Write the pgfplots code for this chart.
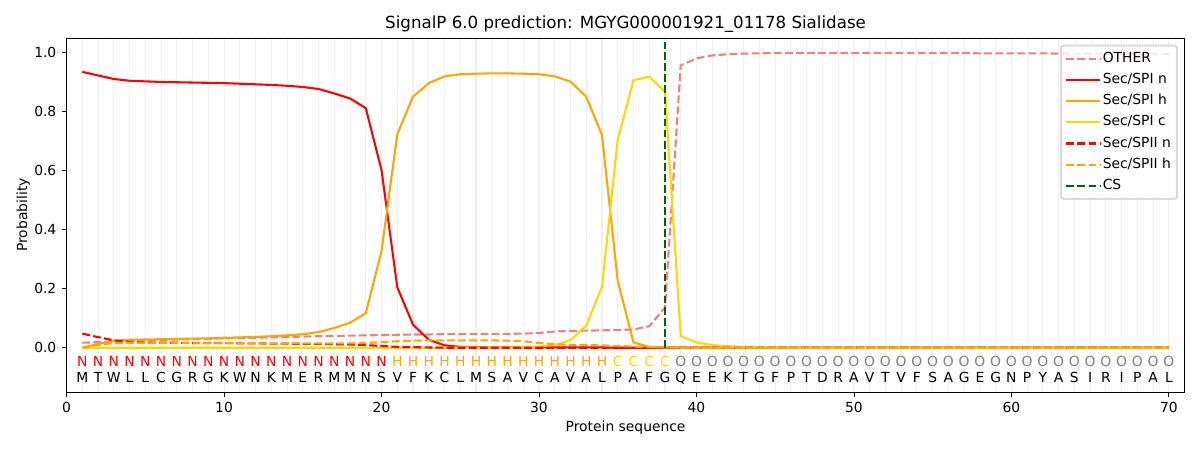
\documentclass[border=0pt]{standalone}
\usepackage{fontspec}
\setmainfont{DejaVu Sans}
\usepackage{pgfplots}
\pgfplotsset{compat=1.18}
\usepackage{pgfplotstable}
\definecolor{lcoral}{HTML}{F08080}
\definecolor{orng}{HTML}{FFA500}
\definecolor{gld}{HTML}{FFD700}
\definecolor{dgreen}{HTML}{006400}
\newcommand{\fs}{\fontsize{10.4}{12.5}\selectfont}
\pgfplotstableread{
x other spin spih spic spiin spiih
1 0.017 0.935 0.000 0.000 0.048 0.000
2 0.019 0.923 0.013 0.000 0.036 0.010
3 0.021 0.911 0.024 0.000 0.025 0.016
4 0.023 0.905 0.027 0.000 0.020 0.017
5 0.025 0.903 0.028 0.000 0.018 0.017
6 0.026 0.901 0.029 0.000 0.017 0.017
7 0.028 0.900 0.030 0.000 0.017 0.017
8 0.029 0.899 0.031 0.000 0.016 0.016
9 0.030 0.898 0.032 0.000 0.016 0.016
10 0.032 0.897 0.034 0.000 0.016 0.016
11 0.033 0.895 0.035 0.000 0.015 0.016
12 0.034 0.893 0.037 0.000 0.015 0.015
13 0.035 0.891 0.039 0.000 0.014 0.015
14 0.036 0.888 0.042 0.000 0.014 0.015
15 0.038 0.884 0.046 0.000 0.013 0.015
16 0.039 0.877 0.053 0.000 0.013 0.015
17 0.040 0.862 0.067 0.000 0.012 0.015
18 0.041 0.845 0.085 0.000 0.011 0.015
19 0.042 0.812 0.117 0.000 0.009 0.016
20 0.043 0.602 0.328 0.000 0.006 0.019
21 0.044 0.205 0.724 0.000 0.003 0.022
22 0.045 0.078 0.851 0.000 0.002 0.024
23 0.045 0.027 0.897 0.000 0.001 0.025
24 0.046 0.008 0.920 0.000 0.000 0.025
25 0.046 0.003 0.927 0.001 0.000 0.025
26 0.046 0.002 0.929 0.001 0.000 0.025
27 0.047 0.001 0.930 0.001 0.000 0.025
28 0.047 0.001 0.930 0.001 0.000 0.024
29 0.048 0.001 0.929 0.002 0.000 0.022
30 0.050 0.001 0.927 0.004 0.000 0.016
31 0.055 0.001 0.920 0.009 0.000 0.012
32 0.057 0.001 0.902 0.026 0.000 0.010
33 0.058 0.001 0.851 0.075 0.000 0.009
34 0.059 0.001 0.721 0.207 0.000 0.008
35 0.060 0.000 0.227 0.705 0.000 0.006
36 0.062 0.000 0.018 0.907 0.000 0.004
37 0.073 0.000 0.003 0.919 0.000 0.002
38 0.136 0.000 0.001 0.868 0.000 0.001
39 0.957 0.000 0.000 0.040 0.000 0.000
40 0.981 0.000 0.000 0.018 0.000 0.000
41 0.991 0.000 0.000 0.009 0.000 0.000
42 0.995 0.000 0.000 0.005 0.000 0.000
43 0.997 0.000 0.000 0.003 0.000 0.000
44 0.998 0.000 0.000 0.002 0.000 0.000
45 0.999 0.000 0.000 0.001 0.000 0.000
46 0.999 0.000 0.000 0.000 0.000 0.000
47 0.999 0.000 0.000 0.000 0.000 0.000
48 0.999 0.000 0.000 0.000 0.000 0.000
49 0.999 0.000 0.000 0.000 0.000 0.000
50 0.999 0.000 0.000 0.000 0.000 0.000
51 0.999 0.000 0.000 0.000 0.000 0.000
52 0.999 0.000 0.000 0.000 0.000 0.000
53 0.999 0.000 0.000 0.000 0.000 0.000
54 0.999 0.000 0.000 0.000 0.000 0.000
55 0.999 0.000 0.000 0.000 0.000 0.000
56 0.999 0.000 0.000 0.000 0.000 0.000
57 0.999 0.000 0.000 0.000 0.000 0.000
58 0.998 0.000 0.000 0.000 0.000 0.000
59 0.998 0.000 0.000 0.000 0.000 0.000
60 0.998 0.000 0.000 0.000 0.000 0.000
61 0.998 0.000 0.000 0.000 0.000 0.000
62 0.998 0.000 0.000 0.000 0.000 0.000
63 0.997 0.000 0.000 0.000 0.000 0.000
64 0.997 0.000 0.000 0.000 0.000 0.000
65 0.997 0.000 0.000 0.000 0.000 0.000
66 0.997 0.000 0.000 0.000 0.000 0.000
67 0.996 0.000 0.000 0.000 0.000 0.000
68 0.996 0.000 0.000 0.000 0.000 0.000
69 0.996 0.000 0.000 0.000 0.000 0.000
70 0.996 0.000 0.000 0.000 0.000 0.000
}\probs
\begin{document}
\begin{tikzpicture}
\begin{axis}[
  scale only axis, width=838.5pt, height=265.5pt,
  xmin=0, xmax=71, ymin=-0.15, ymax=1.05,
  xtick={0,10,...,70}, ytick={0,0.2,0.4,0.6,0.8,1.0},
  minor xtick={0,1,...,71}, xminorgrids,
  minor grid style={gray!12, line width=0.8pt},
  minor tick length=0pt, major tick length=3.6pt,
  tick align=outside, tick pos=left,
  axis line style={line width=0.6pt},
  major tick style={line width=0.6pt, black},
  /pgf/number format/assume math mode=true,
  ticklabel style={font=\fs},
  yticklabel style={/pgf/number format/.cd, fixed, fixed zerofill, precision=1},
  title={SignalP 6.0 prediction: MGYG000001921\_01178 Sialidase},
  title style={font=\fontsize{12.5}{14}\selectfont, at={(axis description cs:0.5,1.0275)}, anchor=base, inner sep=0pt, yshift=-6pt},
  xlabel={Protein sequence},
  xlabel style={font=\fs, at={(axis description cs:0.5,-0.1122)}, anchor=base, inner sep=0pt},
  ylabel={Probability},
  ylabel style={font=\fs, at={(axis description cs:-0.0354,0.5)}, anchor=base, inner sep=0pt},
  legend cell align=left,
  legend image code/.code={\draw[#1] (0pt,0pt) -- (21.5pt,0pt); \path (0pt,0pt) -- (25pt,0pt);},
  legend style={at={(axis description cs:0.9943,0.9812)}, anchor=north east,
    draw=gray!30, rounded corners=2pt, fill=white, fill opacity=0.8, text opacity=1,
    font=\fs, inner xsep=3.2pt, inner ysep=3pt, row sep=2.4pt,
    nodes={inner sep=1.5pt, text height=8pt, text depth=2.5pt}},
  line width=1.56pt,
]
\addplot[lcoral, dash pattern=on 5.8pt off 2.5pt] table[x=x, y=other] {\probs};
\addlegendentry{OTHER}
\addplot[red] table[x=x, y=spin] {\probs};
\addlegendentry{Sec/SPI n}
\addplot[orng] table[x=x, y=spih] {\probs};
\addlegendentry{Sec/SPI h}
\addplot[gld] table[x=x, y=spic] {\probs};
\addlegendentry{Sec/SPI c}
\addplot[red, dash pattern=on 5.8pt off 2.5pt] table[x=x, y=spiin] {\probs};
\addlegendentry{Sec/SPII n}
\addplot[orng, dash pattern=on 5.8pt off 2.5pt] table[x=x, y=spiih] {\probs};
\addlegendentry{Sec/SPII h}
\addplot[dgreen, dash pattern=on 5.8pt off 2.5pt] coordinates {(38,0) (38,1.035)};
\addlegendentry{CS}
% region labels
\addplot[forget plot, only marks, mark=none, nodes near coords, point meta=explicit symbolic,
  nodes near coords style={anchor=center, font=\fs, text=red, inner sep=0pt}]
  coordinates {(1,-0.047)[N] (2,-0.047)[N] (3,-0.047)[N] (4,-0.047)[N] (5,-0.047)[N]
  (6,-0.047)[N] (7,-0.047)[N] (8,-0.047)[N] (9,-0.047)[N] (10,-0.047)[N]
  (11,-0.047)[N] (12,-0.047)[N] (13,-0.047)[N] (14,-0.047)[N] (15,-0.047)[N]
  (16,-0.047)[N] (17,-0.047)[N] (18,-0.047)[N] (19,-0.047)[N] (20,-0.047)[N]};
\addplot[forget plot, only marks, mark=none, nodes near coords, point meta=explicit symbolic,
  nodes near coords style={anchor=center, font=\fs, text=orng, inner sep=0pt}]
  coordinates {(21,-0.047)[H] (22,-0.047)[H] (23,-0.047)[H] (24,-0.047)[H] (25,-0.047)[H]
  (26,-0.047)[H] (27,-0.047)[H] (28,-0.047)[H] (29,-0.047)[H] (30,-0.047)[H]
  (31,-0.047)[H] (32,-0.047)[H] (33,-0.047)[H] (34,-0.047)[H]};
\addplot[forget plot, only marks, mark=none, nodes near coords, point meta=explicit symbolic,
  nodes near coords style={anchor=center, font=\fs, text=gld, inner sep=0pt}]
  coordinates {(35,-0.047)[C] (36,-0.047)[C] (37,-0.047)[C] (38,-0.047)[C]};
\addplot[forget plot, only marks, mark=none, nodes near coords, point meta=explicit symbolic,
  nodes near coords style={anchor=center, font=\fs, text=gray, inner sep=0pt}]
  coordinates {(39,-0.047)[O] (40,-0.047)[O] (41,-0.047)[O] (42,-0.047)[O] (43,-0.047)[O]
  (44,-0.047)[O] (45,-0.047)[O] (46,-0.047)[O] (47,-0.047)[O] (48,-0.047)[O]
  (49,-0.047)[O] (50,-0.047)[O] (51,-0.047)[O] (52,-0.047)[O] (53,-0.047)[O]
  (54,-0.047)[O] (55,-0.047)[O] (56,-0.047)[O] (57,-0.047)[O] (58,-0.047)[O]
  (59,-0.047)[O] (60,-0.047)[O] (61,-0.047)[O] (62,-0.047)[O] (63,-0.047)[O]
  (64,-0.047)[O] (65,-0.047)[O] (66,-0.047)[O] (67,-0.047)[O] (68,-0.047)[O]
  (69,-0.047)[O] (70,-0.047)[O]};
% residues
\addplot[forget plot, only marks, mark=none, nodes near coords, point meta=explicit symbolic,
  nodes near coords style={anchor=center, font=\fs, text=black, inner sep=0pt}]
  coordinates {(1,-0.102)[M] (2,-0.102)[T] (3,-0.102)[W] (4,-0.102)[L] (5,-0.102)[L]
  (6,-0.102)[C] (7,-0.102)[G] (8,-0.102)[R] (9,-0.102)[G] (10,-0.102)[K]
  (11,-0.102)[W] (12,-0.102)[N] (13,-0.102)[K] (14,-0.102)[M] (15,-0.102)[E]
  (16,-0.102)[R] (17,-0.102)[M] (18,-0.102)[M] (19,-0.102)[N] (20,-0.102)[S]
  (21,-0.102)[V] (22,-0.102)[F] (23,-0.102)[K] (24,-0.102)[C] (25,-0.102)[L]
  (26,-0.102)[M] (27,-0.102)[S] (28,-0.102)[A] (29,-0.102)[V] (30,-0.102)[C]
  (31,-0.102)[A] (32,-0.102)[V] (33,-0.102)[A] (34,-0.102)[L] (35,-0.102)[P]
  (36,-0.102)[A] (37,-0.102)[F] (38,-0.102)[G] (39,-0.102)[Q] (40,-0.102)[E]
  (41,-0.102)[E] (42,-0.102)[K] (43,-0.102)[T] (44,-0.102)[G] (45,-0.102)[F]
  (46,-0.102)[P] (47,-0.102)[T] (48,-0.102)[D] (49,-0.102)[R] (50,-0.102)[A]
  (51,-0.102)[V] (52,-0.102)[T] (53,-0.102)[V] (54,-0.102)[F] (55,-0.102)[S]
  (56,-0.102)[A] (57,-0.102)[G] (58,-0.102)[E] (59,-0.102)[G] (60,-0.102)[N]
  (61,-0.102)[P] (62,-0.102)[Y] (63,-0.102)[A] (64,-0.102)[S] (65,-0.102)[I]
  (66,-0.102)[R] (67,-0.102)[I] (68,-0.102)[P] (69,-0.102)[A] (70,-0.102)[L]};
\end{axis}
\path (current axis.south west) ++(-49.95pt,-43.5pt) rectangle ++(900pt,337.5pt);
\end{tikzpicture}
\end{document}
